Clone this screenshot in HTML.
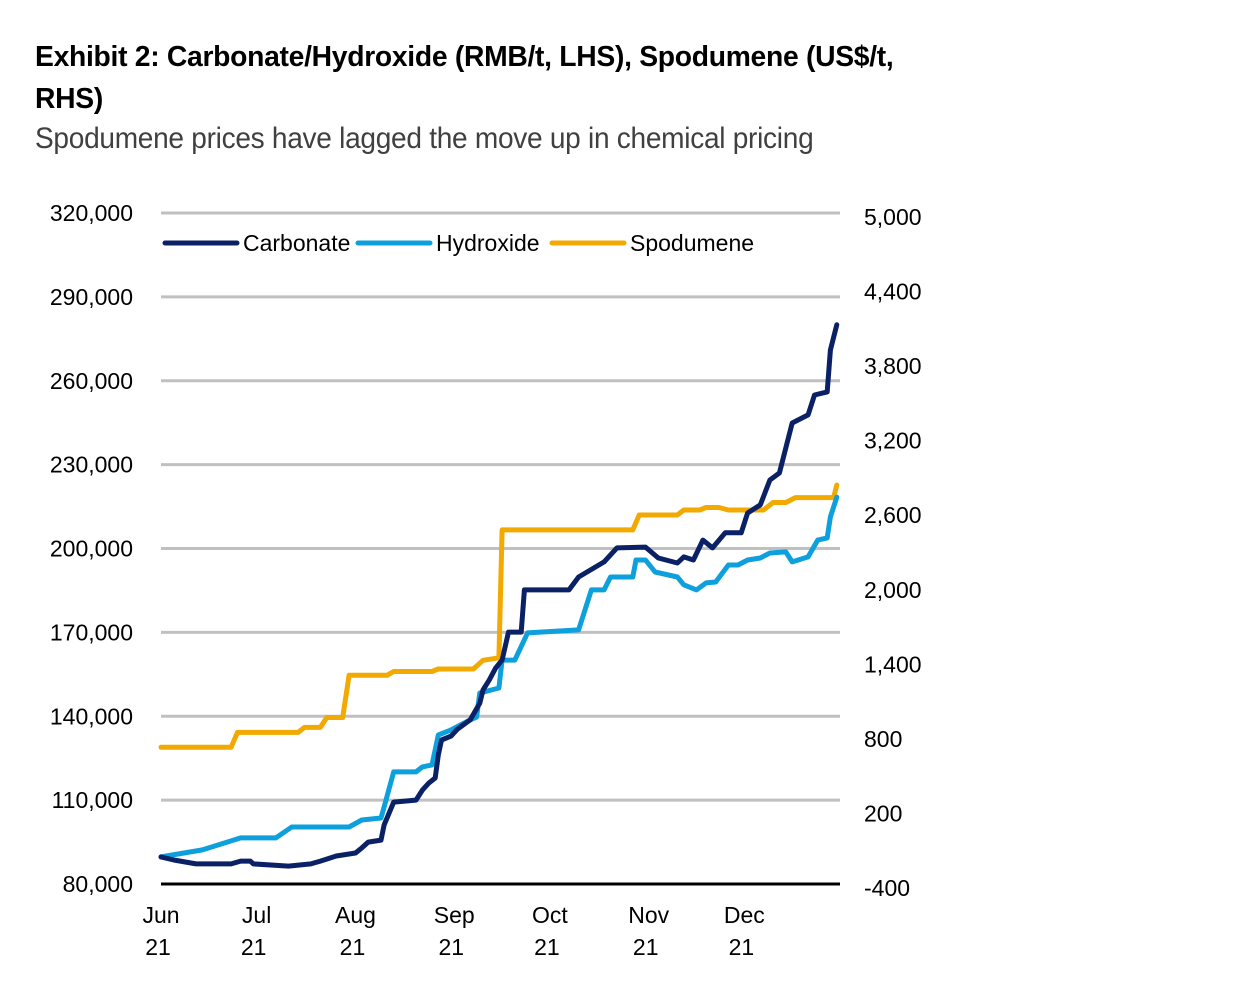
<!DOCTYPE html>
<html><head><meta charset="utf-8"><style>
body{margin:0;background:#fff;width:1236px;height:999px;overflow:hidden;font-family:"Liberation Sans",sans-serif;}
#t1{position:absolute;left:35px;top:36px;font-size:29px;font-weight:bold;color:#000;line-height:42px;letter-spacing:-0.3px;transform:scaleX(0.975);transform-origin:0 0;white-space:nowrap}
#sub{position:absolute;left:35px;top:122px;font-size:30px;color:#404040;letter-spacing:-0.3px;transform:scaleX(0.935);transform-origin:0 0;white-space:nowrap}
svg{position:absolute;left:0;top:0}
text{font-family:"Liberation Sans",sans-serif;font-size:23px;fill:#000}
</style></head><body>
<div id="t1">Exhibit 2: Carbonate/Hydroxide (RMB/t, LHS), Spodumene (US$/t,<br>RHS)</div>
<div id="sub">Spodumene prices have lagged the move up in chemical pricing</div>
<svg id="chart" width="1236" height="999"></svg>
<script>
const leftTicks=[80000,110000,140000,170000,200000,230000,260000,290000,320000];
const rightTicks=[-400,200,800,1400,2000,2600,3200,3800,4400,5000];
const monthLabels=["Jun","Jul","Aug","Sep","Oct","Nov","Dec"];
const monthDays=[0,30,61,92,122,153,183];
const carbDays=[0,4,11,22,25,28,29,40,47,50,55,61,63,65,69,70,73,80,82,84,86,87,88,91,93,97,100,101,103,105,107,109,113,114,128,131,139,143,152,156,162,164,167,170,173,177,182,184,188,191,194,198,203,205,209,210,212];
const carbVals=[89700,88600,87200,87200,88200,88200,87200,86400,87200,88200,90000,91100,92900,95000,95700,101100,109300,110000,113600,116100,117900,126100,131500,132900,135400,138700,144700,149400,153000,157300,160100,170100,170100,185200,185200,189800,195200,200200,200500,196600,194800,197000,195900,203000,200200,205600,205600,212700,215600,224500,227000,244900,247800,254900,256000,271000,280000];
const hydDays=[0,13,25,36,41,59,63,69,70,73,80,82,85,87,91,97,99,100,106,107,111,115,131,135,139,141,148,149,152,155,162,164,168,171,174,178,181,184,188,191,196,198,203,206,209,210,212];
const hydVals=[89700,92200,96500,96500,100400,100400,102900,103600,107500,120100,120100,121900,122600,133300,135100,138700,139700,148300,150100,160100,160100,169800,170900,185200,185200,189800,189800,195900,195900,191600,189800,187000,185200,187700,188000,194100,194100,195900,196600,198400,198800,195200,197000,203000,203800,211300,218400];
const spoDays=[0,22,24,43,45,50,52,57,59,71,73,85,87,98,101,106,107,148,150,162,164,169,171,175,178,189,192,196,199,211,212];
const spoVals=[700,700,820,820,860,860,940,940,1280,1280,1310,1310,1330,1330,1400,1420,2450,2450,2570,2570,2610,2610,2630,2630,2610,2610,2670,2670,2710,2710,2810];

const X0=161,X1=840,Y0=884,Y1=213,DMAX=213;
const xs=d=>X0+d/DMAX*(X1-X0);
const yl=v=>Y0-(v-80000)/240000*(Y0-Y1);
const yr=v=>Y0-(v+400)/5400*(Y0-Y1);
const svg=document.getElementById('chart');
const NS='http://www.w3.org/2000/svg';
function mk(tag,attrs,txt){const e=document.createElementNS(NS,tag);for(const k in attrs)e.setAttribute(k,attrs[k]);if(txt!==undefined)e.textContent=txt;svg.appendChild(e);return e;}
const fmt=v=>v.toLocaleString('en-US');
leftTicks.forEach((v,i)=>{
  if(i>0){const g=mk('line',{x1:X0,x2:X1,y1:yl(v),y2:yl(v),stroke:'#c0c0c0','stroke-width':3});
  
  }
  const t=mk('text',{x:133,y:yl(v)+8,'text-anchor':'end'},fmt(v));
  
  
});
rightTicks.forEach(v=>{
  const t=mk('text',{x:864,y:yr(v)+12},fmt(v));
  
  
});
const ax=mk('line',{x1:X0,x2:X1,y1:Y0,y2:Y0,stroke:'#000','stroke-width':3});


monthLabels.forEach((m,i)=>{
  const t=mk('text',{x:xs(monthDays[i]),y:923,'text-anchor':'middle'},m);
  
  
  const t2=mk('text',{x:xs(monthDays[i])-3,y:955,'text-anchor':'middle'},'21');
  
  
});
function series(days,vals,yf,color,name){
  const d=days.map((dd,i)=>(i?'L':'M')+xs(dd).toFixed(1)+','+yf(vals[i]).toFixed(1)).join(' ');
  const p=mk('path',{d:d,fill:'none',stroke:color,'stroke-width':5,'stroke-linejoin':'round','stroke-linecap':'round'});
  
  
}
series(spoDays,spoVals,yr,'#f2a900','spodumene-line');
series(hydDays,hydVals,yl,'#0ea0dc','hydroxide-line');
series(carbDays,carbVals,yl,'#0b2166','carbonate-line');
const leg=[['Carbonate','#0b2166',165],['Hydroxide','#0ea0dc',358],['Spodumene','#f2a900',552]];
leg.forEach(l=>{
  const ln=mk('line',{x1:l[2],x2:l[2]+72,y1:243,y2:243,stroke:l[1],'stroke-width':5,'stroke-linecap':'round'});
  
  
  const t=mk('text',{x:l[2]+78,y:251},l[0]);
  
  
});
</script>
</body></html>
